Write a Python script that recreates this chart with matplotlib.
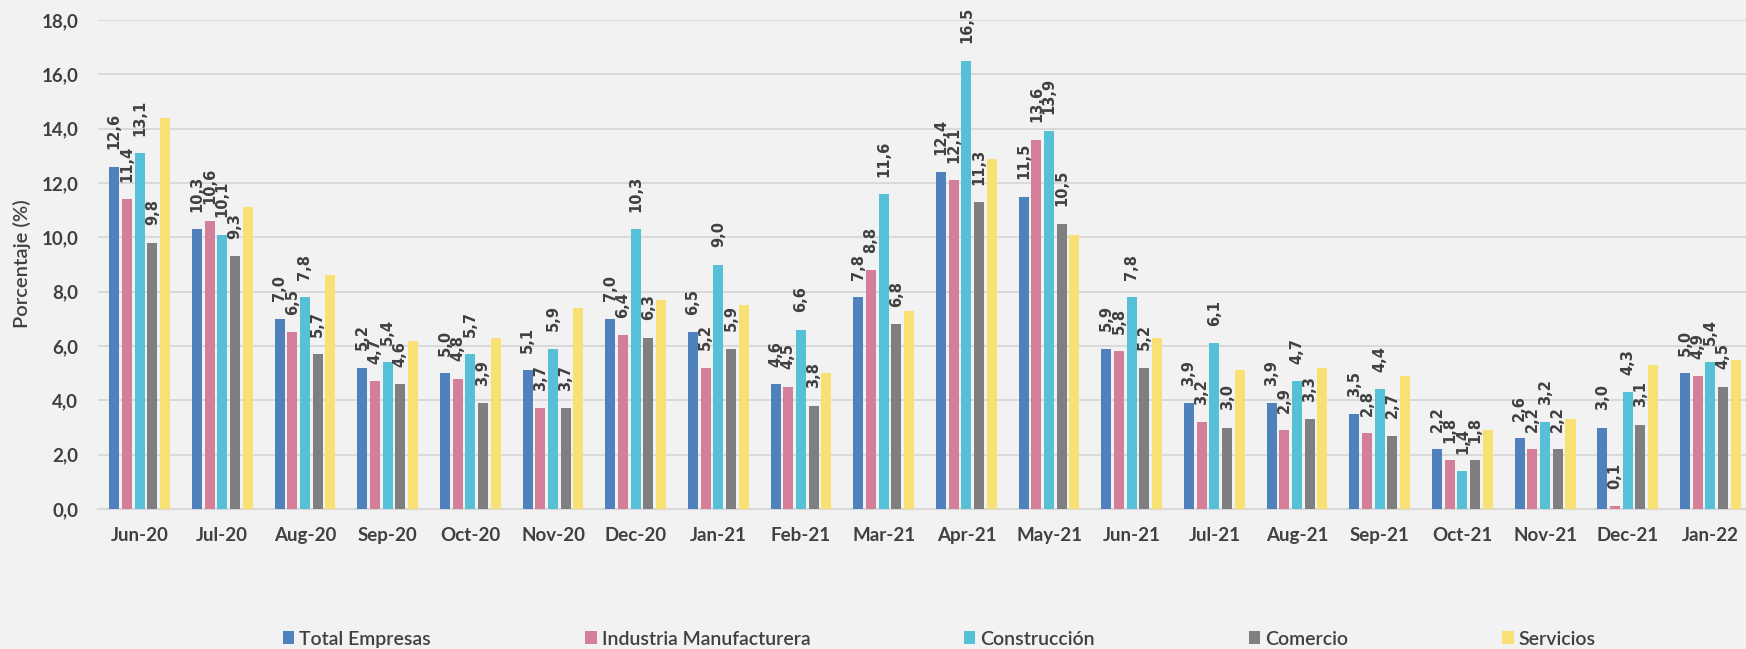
import matplotlib
matplotlib.use('Agg')
import matplotlib.pyplot as plt
import numpy as np

# months shown on the x axis
months = ['Jun-20', 'Jul-20', 'Aug-20', 'Sep-20', 'Oct-20', 'Nov-20', 'Dec-20',
          'Jan-21', 'Feb-21', 'Mar-21', 'Apr-21', 'May-21', 'Jun-21', 'Jul-21',
          'Aug-21', 'Sep-21', 'Oct-21', 'Nov-21', 'Dec-21', 'Jan-22']

total_empresas = [12.6, 10.3, 7.0, 5.2, 5.0, 5.1, 7.0, 6.5, 4.6, 7.8,
                  12.4, 11.5, 5.9, 3.9, 3.9, 3.5, 2.2, 2.6, 3.0, 5.0]
industria = [11.4, 10.6, 6.5, 4.7, 4.8, 3.7, 6.4, 5.2, 4.5, 8.8,
             12.1, 13.6, 5.8, 3.2, 2.9, 2.8, 1.8, 2.2, 0.1, 4.9]
construccion = [13.1, 10.1, 7.8, 5.4, 5.7, 5.9, 10.3, 9.0, 6.6, 11.6,
                16.5, 13.9, 7.8, 6.1, 4.7, 4.4, 1.4, 3.2, 4.3, 5.4]
comercio = [9.8, 9.3, 5.7, 4.6, 3.9, 3.7, 6.3, 5.9, 3.8, 6.8,
            11.3, 10.5, 5.2, 3.0, 3.3, 2.7, 1.8, 2.2, 3.1, 4.5]
# servicios has no labels in the original
servicios = [14.4, 11.1, 8.6, 6.2, 6.3, 7.4, 7.7, 7.5, 5.0, 7.3,
             12.9, 10.1, 6.3, 5.1, 5.2, 4.9, 2.9, 3.3, 5.3, 5.5]

series_names = ['Total Empresas', 'Industria Manufacturera', 'Construcción',
                'Comercio', 'Servicios']
series_colors = ['#4F81BD', '#D47F99', '#56C0D6', '#7F7F7F', '#F8E073']
bg = '#F2F2F2'
txt = '#404040'


def main():
    series = [total_empresas, industria, construccion, comercio, servicios]

    fig = plt.figure(figsize=(17.46, 6.49), dpi=100, facecolor=bg)
    ax = fig.add_axes([98.3 / 1746, 140 / 649, 1 - 98.3 / 1746, 489 / 649])
    ax.set_facecolor(bg)

    x = np.arange(len(months))
    step = 0.1536
    width = 0.121
    for i, (vals, name, col) in enumerate(zip(series, series_names, series_colors)):
        xs = x + (i - 2) * step
        ax.bar(xs, vals, width=width, color=col, label=name, zorder=3)
        if i < 4:
            for xi, v in zip(xs, vals):
                ax.annotate(f'{v:.1f}'.replace('.', ','), (xi, v),
                            xytext=(0, 12.5), textcoords='offset points',
                            rotation=90, ha='center', va='bottom',
                            fontsize=10.5, fontweight='bold', color=txt,
                            family='DejaVu Sans',
                            annotation_clip=False, zorder=4)

    ax.set_xlim(-0.5, 19.43)
    ax.set_ylim(0, 18)
    ax.set_yticks(np.arange(0, 18.1, 2))
    ax.set_yticklabels([f'{t:.1f}'.replace('.', ',') for t in np.arange(0, 18.1, 2)])
    ax.set_xticks(x)
    ax.set_xticklabels(months)
    for lab in ax.get_xticklabels() + ax.get_yticklabels():
        lab.set_fontfamily('Lato')
        lab.set_fontweight('bold')
        lab.set_fontsize(13.5)
        lab.set_color(txt)
    ax.tick_params(axis='x', length=0, pad=13)
    ax.tick_params(axis='y', length=0, pad=14.5)

    ax.yaxis.grid(True, color='#D9D9D9', linewidth=1.4, zorder=0)
    ax.set_axisbelow(True)
    for s in ['top', 'right', 'left']:
        ax.spines[s].set_visible(False)
    ax.spines['bottom'].set_color('#D9D9D9')
    ax.spines['bottom'].set_linewidth(1.6)

    fig.text(22 / 1746, 1 - 264 / 649, 'Porcentaje (%)', rotation=90,
             ha='center', va='center', fontsize=14.5, fontweight='semibold',
             family='Lato', color=txt)

    leg = fig.legend(loc='center', bbox_to_anchor=(0.538, 0.0154), ncol=5,
                     frameon=False,
                     prop={'family': 'Lato', 'size': 14, 'weight': 'semibold'},
                     handlelength=0.6, handleheight=0.6, handletextpad=0.26,
                     columnspacing=7.9, borderaxespad=0, borderpad=0)
    for t in leg.get_texts():
        t.set_color(txt)

    fig.savefig('out.png', dpi=100, facecolor=bg)


if __name__ == "__main__":
    main()
